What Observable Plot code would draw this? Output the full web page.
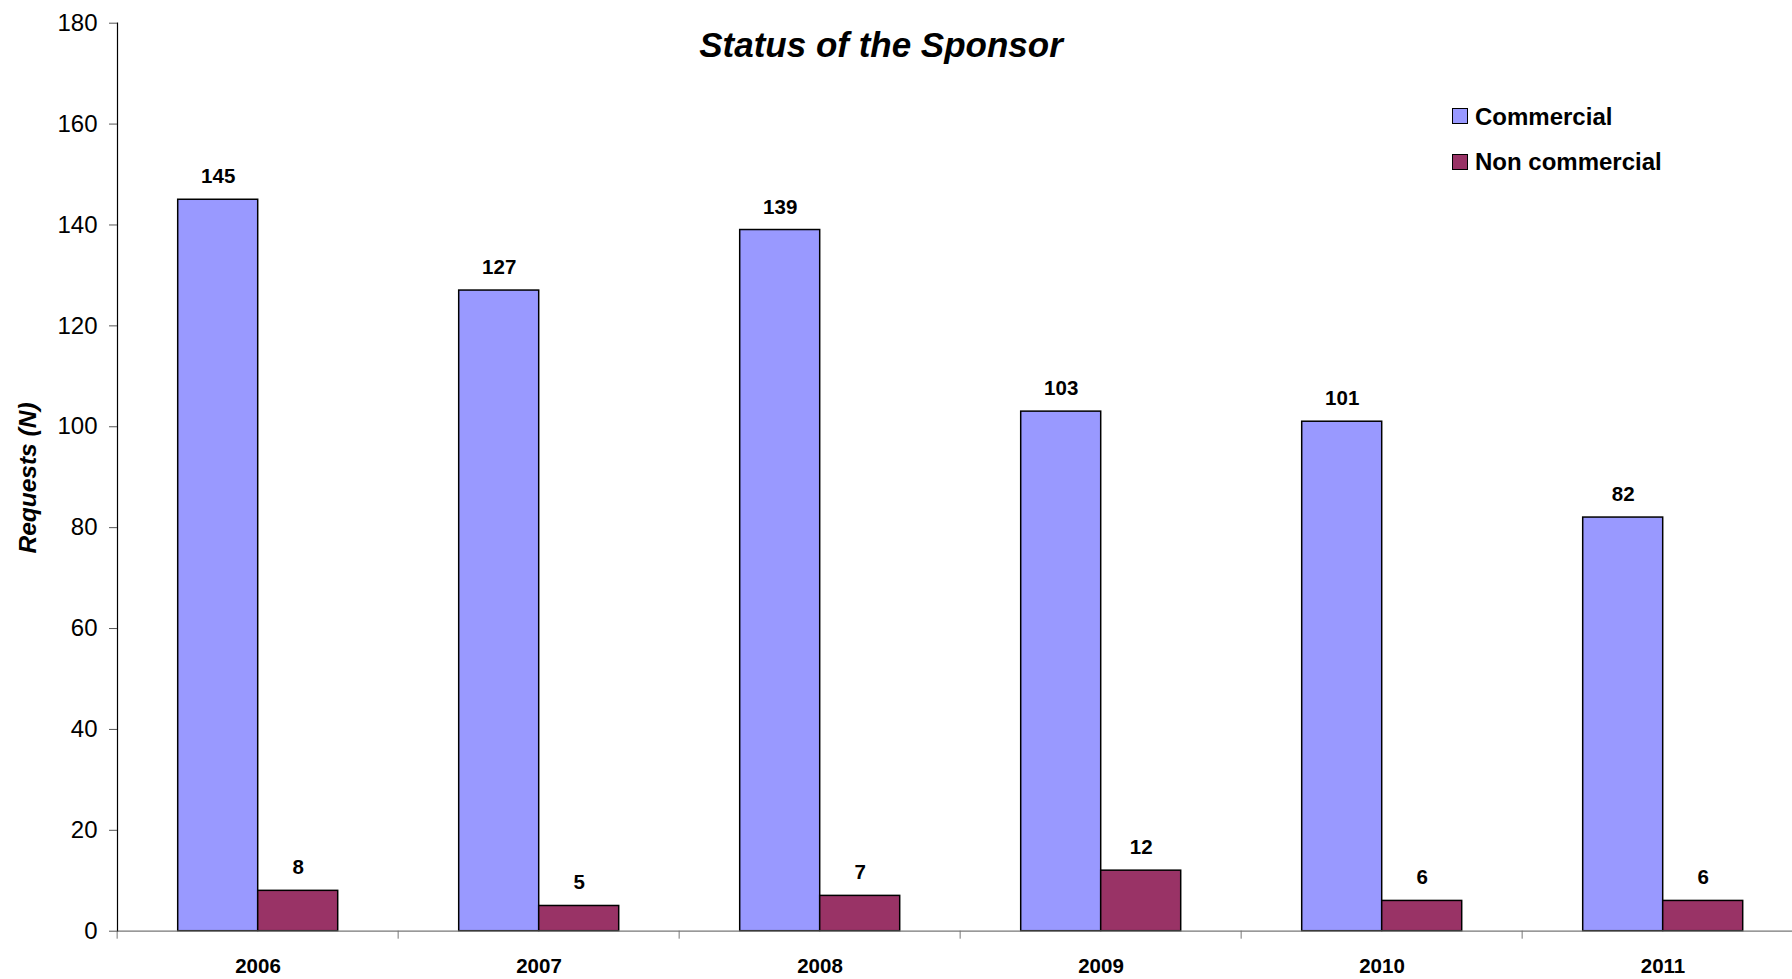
<!DOCTYPE html>
<html>
<head>
<meta charset="utf-8">
<script src="https://cdn.jsdelivr.net/npm/d3@7"></script>
<script src="https://cdn.jsdelivr.net/npm/@observablehq/plot@0.6"></script>
<style>
  html, body { margin: 0; padding: 0; background: #fff; }
  #wrap { position: relative; width: 1792px; height: 979px; font-family: "Liberation Sans", Arial, Helvetica, sans-serif; }
  #wrap svg { position: absolute; left: 0; top: 0; }
  .ov { position: absolute; white-space: nowrap; color: #000; }
  #title { left: 881px; top: 27.4px; font-size: 35px; line-height: 35px; font-weight: bold; font-style: italic; transform: translateX(-50%); }
  #ylab { left: 28.4px; top: 478px; font-size: 24.5px; line-height: 24px; font-weight: bold; font-style: italic; transform: translate(-50%, -50%) rotate(-90deg); }
  .lg { font-size: 24px; line-height: 24px; font-weight: bold; left: 1475px; }
  .sw { position: absolute; width: 14px; height: 14px; border: 1.5px solid #000; left: 1451.7px; }
</style>
</head>
<body>
<div id="wrap">
  <div class="ov" id="title">Status of the Sponsor</div>
  <div class="ov" id="ylab">Requests (N)</div>
  <div class="sw" id="sw0" style="top:108.3px;"></div>
  <div class="ov lg" id="lg0" style="top:104.7px;"></div>
  <div class="sw" id="sw1" style="top:154px;"></div>
  <div class="ov lg" id="lg1" style="top:149.7px;"></div>
</div>
<script>
const years = ["2006", "2007", "2008", "2009", "2010", "2011"];
const commercial = [145, 127, 139, 103, 101, 82];
const nonCommercial = [8, 5, 7, 12, 6, 6];
const series = ["Commercial", "Non commercial"];
const colors = ["#9999FF", "#993366"];
const yTicks = [0, 20, 40, 60, 80, 100, 120, 140, 160, 180];

const table = years.flatMap((year, i) => [
  {year, series: series[0], value: commercial[i]},
  {year, series: series[1], value: nonCommercial[i]}
]);

const left = 115.3, right = 1805.5;
const step = (right - left) / years.length;

const chart = Plot.plot({
  width: 1792,
  height: 979,
  marginTop: 22.7,
  marginBottom: 48.3,
  marginLeft: left,
  marginRight: 0,
  style: {fontFamily: '"Liberation Sans", Arial, Helvetica, sans-serif', background: "transparent", overflow: "visible"},
  fx: {domain: years, range: [left, right], padding: 0, label: null},
  x: {domain: series, paddingInner: 0, paddingOuter: 0.75, axis: null},
  y: {domain: [0, 180], label: null},
  color: {domain: series, range: colors},
  marks: [
    Plot.barY(table, {fx: "year", x: "series", y: "value", fill: "series", stroke: "#000", strokeWidth: 1.5}),
    Plot.text(table, {fx: "year", x: "series", y: "value", text: d => String(d.value), lineAnchor: "bottom", dy: -16.5, fontSize: 20.5, fontWeight: "bold", fill: "#000"}),
    Plot.ruleY([0], {stroke: "#777", strokeWidth: 1.2}),
    Plot.frame({anchor: "left", facetAnchor: "left", stroke: "#000", strokeWidth: 1.2}),
    Plot.axisY({ticks: yTicks, tickSize: 8, tickPadding: 12, fontSize: 24, label: null, stroke: "#555", fill: "#000"}),
    Plot.axisFx({anchor: "bottom", tickSize: 0, tickPadding: 27, fontSize: 20.5, fontWeight: "bold", label: null, fill: "#000"}),
    Plot.axisFx({anchor: "bottom", tickSize: 8, tickFormat: () => "", dx: -step / 2, label: null, stroke: "#777"})
  ]
});

document.getElementById("wrap").appendChild(chart);
document.getElementById("lg0").textContent = series[0];
document.getElementById("lg1").textContent = series[1];
document.getElementById("sw0").style.background = colors[0];
document.getElementById("sw1").style.background = colors[1];
</script>
</body>
</html>
